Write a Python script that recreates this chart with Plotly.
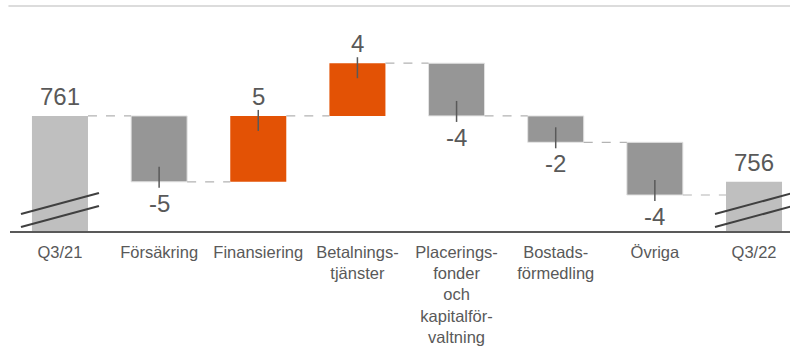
import plotly.graph_objects as go

# Category labels (line breaks as drawn under the axis)
categories = [
    "Q3/21",
    "Försäkring",
    "Finansiering",
    "Betalnings-<br>tjänster",
    "Placerings-<br>fonder<br>och<br>kapitalför-<br>valtning",
    "Bostads-<br>förmedling",
    "Övriga",
    "Q3/22",
]
start_total = 761
changes = [-5, 5, 4, -4, -2, -4]
end_total = 756

GREY_TOTAL = "#bfbfbf"
GREY_NEG = "#969696"
ORANGE = "#e35205"
TEXT = "#595959"
BAR_W = 0.565
VALUE_FONT = dict(family="Liberation Sans, Arial, sans-serif", size=24, color=TEXT)
CAT_FONT = dict(family="Liberation Sans, Arial, sans-serif", size=16.5, color=TEXT)

n = len(categories)
xs = list(range(n))

# running levels before each change
bases = []
level = start_total
for c in changes:
    bases.append(level)
    level += c

fig = go.Figure()

# total bars (axis is broken, so they are clipped at the bottom of the range)
fig.add_trace(go.Bar(
    x=[0, n - 1], y=[start_total, end_total], base=0, width=BAR_W,
    marker=dict(color=GREY_TOTAL, line=dict(width=0)), hoverinfo="skip",
))

# change bars
fig.add_trace(go.Bar(
    x=xs[1:-1], y=changes, base=bases, width=BAR_W,
    marker=dict(color=[ORANGE if c > 0 else GREY_NEG for c in changes],
                line=dict(color=["rgba(0,0,0,0)" if c > 0 else "#e3e3e3" for c in changes], width=1)),
    hoverinfo="skip",
))

# dashed connectors between neighbouring bars
levels = [start_total] + [b + c for b, c in zip(bases, changes)]
cx, cy = [], []
for i, lv in enumerate(levels):
    cx += [i + BAR_W / 2, i + 1 - BAR_W / 2, None]
    cy += [lv, lv, None]
fig.add_trace(go.Scatter(x=cx, y=cy, mode="lines",
                         line=dict(color="#b3b3b3", width=1.2, dash="dash"),
                         hoverinfo="skip"))

shapes = []
annotations = []

# value labels for the totals
for i, v in [(0, start_total), (n - 1, end_total)]:
    annotations.append(dict(x=i, y=v, xref="x", yref="y", text=str(v), showarrow=False,
                            yanchor="bottom", yshift=4, font=VALUE_FONT))

# value labels and leader ticks for the changes
for k, (b, c) in enumerate(zip(bases, changes)):
    i = k + 1
    end = b + c
    if c > 0:
        annotations.append(dict(x=i, y=end, xref="x", yref="y", text=str(c), showarrow=False,
                                yanchor="bottom", yshift=4, font=VALUE_FONT))
        y0, y1 = -15, 6
    else:
        annotations.append(dict(x=i, y=end, xref="x", yref="y", text=str(c), showarrow=False,
                                yanchor="top", yshift=-6, font=VALUE_FONT))
        y0, y1 = 15, -6
    shapes.append(dict(type="line", xref="x", yref="y", x0=i, x1=i,
                       ysizemode="pixel", yanchor=end, y0=y0, y1=y1,
                       line=dict(color=TEXT, width=1.5)))

# axis-break marks on the total bars
for i in (0, n - 1):
    for off in (0, 13):
        shapes.append(dict(type="line", xref="x", yref="paper",
                           xsizemode="pixel", xanchor=i, x0=-39, x1=39,
                           ysizemode="pixel", yanchor=0, y0=17 - off, y1=38 - off,
                           line=dict(color="#404040", width=2)))

# thin rule along the top
shapes.append(dict(type="line", xref="paper", yref="paper", x0=-0.002, x1=1, y0=1, y1=1,
                   line=dict(color="#dcdcdc", width=2)))

fig.update_layout(
    width=790, height=352,
    margin=dict(l=10, r=0, t=6, b=121),
    paper_bgcolor="white", plot_bgcolor="white",
    showlegend=False, barmode="overlay",
    xaxis=dict(range=[-0.504, 7.363], tickmode="array", tickvals=xs, ticktext=categories,
               tickfont=CAT_FONT, ticks="", showgrid=False, tickangle=0,
               ticklabelstandoff=5,
               zeroline=False, showline=True, linecolor="#595959", linewidth=1.5,
               fixedrange=True),
    yaxis=dict(range=[752.27, 769.34], visible=False, showgrid=False, zeroline=False,
               fixedrange=True),
    shapes=shapes,
    annotations=annotations,
)

fig.write_html("out.html")
